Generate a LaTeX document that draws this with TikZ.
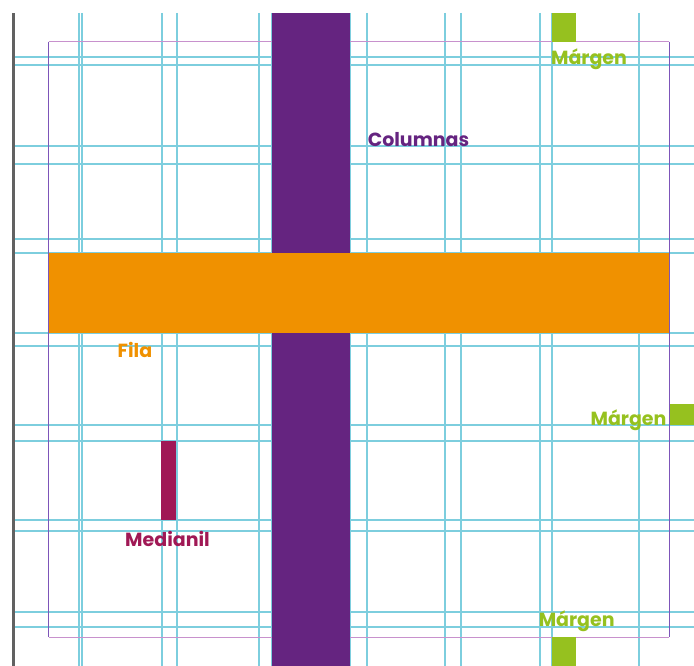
\documentclass[tikz,border=0pt]{standalone}
\usepackage{fontspec}
\newfontfamily\poppins{Poppins}
\usetikzlibrary{positioning}
\definecolor{guia}{RGB}{125,206,222}
\definecolor{columna}{RGB}{101,36,128}
\definecolor{fila}{RGB}{240,145,0}
\definecolor{medianil}{RGB}{160,24,85}
\definecolor{margen}{RGB}{150,193,31}
\definecolor{caja}{RGB}{125,85,185}
\definecolor{cajatop}{RGB}{200,145,205}

\begin{document}
\begin{tikzpicture}[
    x=1pt, y=-1pt,
    guide/.style={draw=guia, line width=1.3pt},
    label/.style={font=\poppins\bfseries\fontsize{19}{19}\selectfont, anchor=base, inner sep=0pt}
]
\useasboundingbox (0,0) rectangle (694,666);

% guias verticales y horizontales
\foreach \x in {79, 82, 162, 177, 259, 272, 350, 367, 445, 461, 540, 552, 639}
    \draw[guide] (\x, 13) -- (\x, 666);
\foreach \y in {57, 65, 146, 164, 239, 253, 333, 346, 425, 441, 520, 531, 612, 627}
    \draw[guide] (14, \y) -- (694, \y);

% borde de la pagina
\fill[black!62] (11.7, 13) rectangle (15, 666);

% caja de margenes
\draw[cajatop, line width=0.9pt] (48.7, 41.7) -- (669.3, 41.7);
\draw[cajatop, line width=0.9pt] (48.7, 637.3) -- (669.3, 637.3);
\draw[caja, line width=0.9pt] (48.7, 41.7) -- (48.7, 637.3);
\draw[caja, line width=0.9pt] (669.3, 41.7) -- (669.3, 637.3);

% columna y fila
\fill[columna] (272, 13) rectangle (350, 666);
\fill[fila] (48.7, 253.3) rectangle (668.5, 333.3);
\fill[medianil] (161, 440.7) rectangle (176.3, 520);

% marcas de margen
\fill[margen] (552.3, 13) rectangle (575.7, 41.7);
\fill[margen] (552.3, 637.3) rectangle (575.7, 666);
\fill[margen] (670, 403.7) rectangle (694, 425.3);

\node[label, text=margen] (margenTop) at (589, 65) {Márgen};
\node[label, text=columna] (lblColumnas) at (418.5, 146.7) {Columnas};
\node[label, text=fila] (lblFila) at (135, 357.7) {Fila};
\node[label, text=medianil] (lblMedianil) at (167.5, 546.7) {Medianil};
\node[label, text=margen, anchor=base east] (margenRight) at (666.7, 425.7) {Márgen};
\node[label, text=margen] (margenBottom) at (576.7, 626.7) {Márgen};

\end{tikzpicture}
\end{document}
